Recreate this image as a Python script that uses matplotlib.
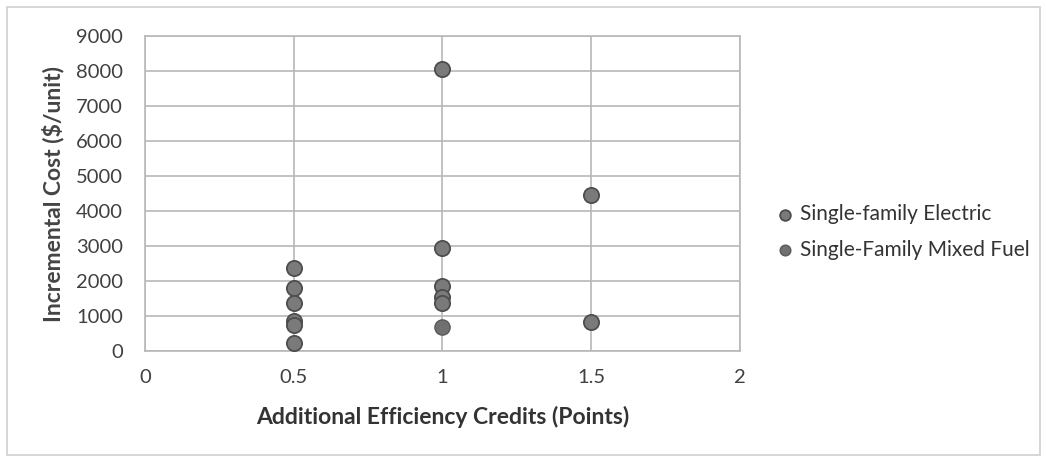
import numpy as np
import matplotlib.pyplot as plt
from matplotlib.patches import Rectangle

plt.rcParams['font.family'] = ['Lato', 'DejaVu Sans']

# values
elec_x = [0.5, 0.5, 0.5, 0.5, 0.5, 0.5, 1, 1, 1, 1, 1, 1.5, 1.5]
elec_y = [2370, 1800, 1370, 860, 740, 230, 8050, 2930, 1850, 1550, 1370, 4450, 820]
mixed_x = [1]
mixed_y = [690]

xticks = [0, 0.5, 1, 1.5, 2]
yticks = list(range(0, 10000, 1000))

fig = plt.figure(figsize=(10.47, 4.62), dpi=100)
ax = fig.add_axes([0.1385, 0.2403, 0.568, 0.6817])

ax.scatter(elec_x, elec_y, s=120, color='#7a7a7a', edgecolor='#4d4d4d', linewidth=1.3,
           label='Single-family Electric', zorder=3)
ax.scatter(mixed_x, mixed_y, s=120, color='#707070', edgecolor='#5a5a5a', linewidth=1.0,
           label='Single-Family Mixed Fuel', zorder=3)

ax.set_xlim(0, 2)
ax.set_ylim(0, 9000)
ax.set_xticks(xticks)
ax.set_xticklabels(['0', '0.5', '1', '1.5', '2'])
ax.set_yticks(yticks)
ax.grid(True, color='#b8b8b8', linewidth=1.2)
ax.set_axisbelow(True)
for s in ax.spines.values():
    s.set_color('#b8b8b8')
    s.set_linewidth(1.2)
ax.tick_params(length=0, labelsize=14.5, colors='#404040')
ax.tick_params(axis='y', pad=16)
ax.tick_params(axis='x', pad=13)

ax.set_xlabel('Additional Efficiency Credits (Points)', fontsize=16.5, fontweight='bold',
              color='#333333', labelpad=14)
ax.set_ylabel('Incremental Cost ($/unit)', fontsize=16.5, fontweight='bold',
              color='#444444', labelpad=8)

ax.legend(loc='center left', bbox_to_anchor=(1.01, 0.378), frameon=False, fontsize=15,
          handletextpad=-0.3, labelspacing=0.75, markerscale=0.7, labelcolor='#333333')

fig.patches.append(Rectangle((0.007, 0.015), 0.986, 0.97, transform=fig.transFigure,
                             fill=False, edgecolor='#cfcfcf', linewidth=1.2))

fig.savefig('out.png', dpi=100)
